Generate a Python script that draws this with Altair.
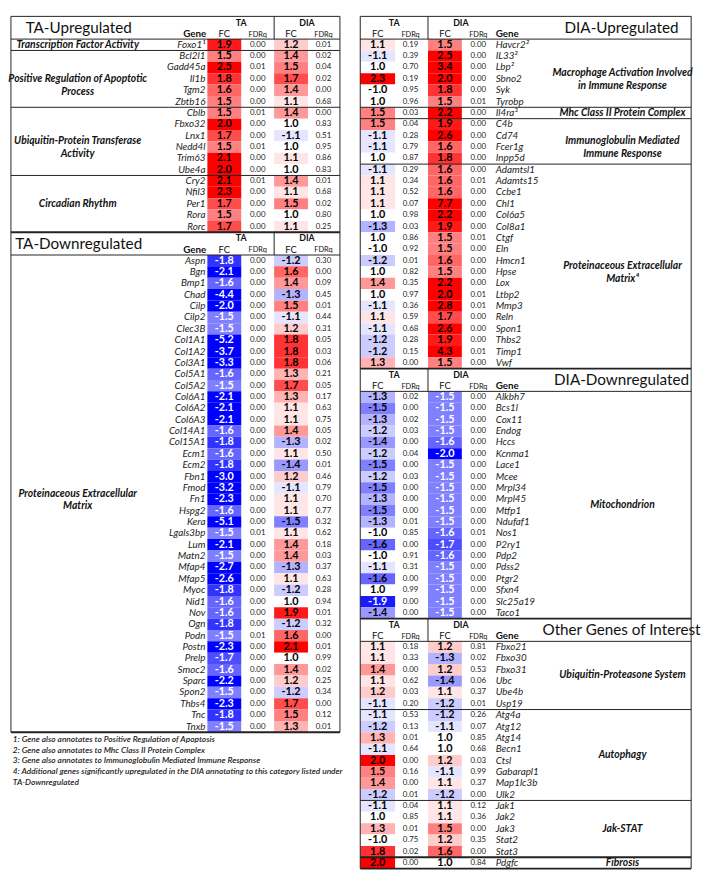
import altair as alt
import pandas as pd

# ------------------------------------------------------------------ data
# TA-Upregulated
TA_UP_GROUPS = ["Transcription Factor Activity",
                "Positive Regulation of Apoptotic\nProcess",
                "Ubiquitin-Protein Transferase\nActivity",
                "Circadian Rhythm"]
TA_UP_GROUP_SIZES = [1, 5, 6, 5]
TA_UP_GENES = ["Foxo1\u00b9", "Bcl2l1", "Gadd45a", "Il1b", "Tgm2", "Zbtb16",
               "Cblb", "Fbxo32", "Lnx1", "Nedd4l", "Trim63", "Ube4a",
               "Cry2", "Nfil3", "Per1", "Rora", "Rorc"]
TA_UP_TA_FC = [1.9, 1.5, 2.5, 1.8, 1.6, 1.5, 1.5, 2.0, 1.7, 1.5, 2.1, 2.0, 2.1, 2.3, 1.7, 1.5, 1.7]
TA_UP_TA_FDR = [0.00, 0.00, 0.01, 0.00, 0.00, 0.00, 0.01, 0.00, 0.00, 0.01, 0.00, 0.00, 0.01, 0.00, 0.00, 0.00, 0.00]
TA_UP_DIA_FC = [1.2, 1.4, 1.5, 1.7, 1.4, 1.1, 1.4, 1.0, -1.1, 1.0, 1.1, 1.0, 1.4, 1.1, 1.5, 1.0, 1.1]
TA_UP_DIA_FDR = [0.01, 0.02, 0.04, 0.02, 0.00, 0.68, 0.00, 0.83, 0.51, 0.95, 0.86, 0.83, 0.01, 0.68, 0.02, 0.80, 0.25]

# TA-Downregulated
TA_DOWN_GROUPS = ["Proteinaceous Extracellular\nMatrix"]
TA_DOWN_GROUP_SIZES = [42]
TA_DOWN_GENES = ["Aspn", "Bgn", "Bmp1", "Chad", "Cilp", "Cilp2", "Clec3B", "Col1A1", "Col1A2", "Col3A1",
                 "Col5A1", "Col5A2", "Col6A1", "Col6A2", "Col6A3", "Col14A1", "Col15A1", "Ecm1", "Ecm2", "Fbn1",
                 "Fmod", "Fn1", "Hspg2", "Kera", "Lgals3bp", "Lum", "Matn2", "Mfap4", "Mfap5", "Myoc",
                 "Nid1", "Nov", "Ogn", "Podn", "Postn", "Prelp", "Smoc2", "Sparc", "Spon2", "Thbs4",
                 "Tnc", "Tnxb"]
TA_DOWN_TA_FC = [-1.8, -2.1, -1.6, -4.4, -2.0, -1.5, -1.5, -5.2, -3.7, -3.3,
                 -1.6, -1.5, -2.1, -2.1, -2.1, -1.6, -1.8, -1.6, -1.8, -3.0,
                 -3.2, -2.3, -1.6, -5.1, -1.5, -2.1, -1.5, -2.7, -2.6, -1.8,
                 -1.6, -1.6, -1.8, -1.5, -2.3, -1.7, -1.6, -2.2, -1.5, -2.3,
                 -1.8, -1.5]
TA_DOWN_TA_FDR = [0.00] * 24 + [0.01] + [0.00] * 8 + [0.01] + [0.00] * 8
TA_DOWN_DIA_FC = [-1.2, 1.6, 1.4, -1.3, 1.5, -1.1, 1.2, 1.8, 1.8, 1.8,
                  1.3, 1.7, 1.3, 1.1, 1.1, 1.4, -1.3, 1.1, -1.4, 1.2,
                  -1.1, 1.1, 1.1, -1.5, 1.1, 1.4, 1.4, -1.3, 1.1, -1.2,
                  1.0, 1.9, -1.2, 1.6, 2.1, 1.0, 1.4, 1.2, -1.2, 1.7,
                  1.5, 1.3]
TA_DOWN_DIA_FDR = [0.30, 0.00, 0.09, 0.45, 0.01, 0.44, 0.31, 0.05, 0.03, 0.06,
                   0.21, 0.05, 0.17, 0.63, 0.75, 0.05, 0.02, 0.50, 0.01, 0.46,
                   0.79, 0.70, 0.77, 0.32, 0.62, 0.18, 0.03, 0.37, 0.63, 0.28,
                   0.94, 0.01, 0.32, 0.00, 0.01, 0.99, 0.02, 0.25, 0.34, 0.00,
                   0.12, 0.01]

# DIA-Upregulated
DIA_UP_GROUPS = ["Macrophage Activation Involved\nin Immune Response",
                 "Mhc Class II Protein Complex",
                 "Immunoglobulin Mediated\nImmune Response",
                 "Proteinaceous Extracellular\nMatrix\u2074"]
DIA_UP_GROUP_SIZES = [6, 1, 4, 18]
DIA_UP_GENES = ["Havcr2\u00b2", "IL33\u00b2", "Lbp\u00b2", "Sbno2", "Syk", "Tyrobp",
                "Il4ra\u00b3",
                "C4b", "Cd74", "Fcer1g", "Inpp5d",
                "Adamtsl1", "Adamts15", "Ccbe1", "Chl1", "Col6a5", "Col8a1", "Ctgf", "Eln", "Hmcn1",
                "Hpse", "Lox", "Ltbp2", "Mmp3", "Reln", "Spon1", "Thbs2", "Timp1", "Vwf"]
DIA_UP_TA_FC = [1.1, -1.1, 1.0, 2.3, -1.0, 1.0, 1.5, 1.5, -1.1, -1.1, 1.0,
                -1.1, 1.1, 1.1, 1.1, 1.0, -1.3, 1.0, -1.0, -1.2, 1.0, 1.4, 1.0, -1.1, 1.1, -1.1, -1.2, -1.2, 1.3]
DIA_UP_TA_FDR = [0.19, 0.39, 0.70, 0.19, 0.95, 0.96, 0.03, 0.04, 0.28, 0.79, 0.87,
                 0.29, 0.34, 0.52, 0.07, 0.98, 0.03, 0.86, 0.92, 0.01, 0.82, 0.35, 0.97, 0.36, 0.59, 0.68, 0.28, 0.15, 0.00]
DIA_UP_DIA_FC = [1.5, 2.5, 3.4, 2.0, 1.8, 1.5, 2.2, 1.9, 2.6, 1.6, 1.8,
                 1.6, 1.6, 1.6, 7.7, 2.2, 1.9, 1.5, 1.5, 1.6, 1.5, 2.2, 2.0, 2.8, 1.7, 2.6, 1.9, 4.3, 1.5]
DIA_UP_DIA_FDR = [0.00, 0.00, 0.00, 0.00, 0.00, 0.01, 0.00, 0.00, 0.00, 0.00, 0.00,
                  0.00, 0.01, 0.00, 0.00, 0.00, 0.00, 0.01, 0.00, 0.00, 0.00, 0.00, 0.01, 0.01, 0.00, 0.00, 0.00, 0.01, 0.00]

# DIA-Downregulated
DIA_DOWN_GROUPS = ["Mitochondrion"]
DIA_DOWN_GROUP_SIZES = [20]
DIA_DOWN_GENES = ["Alkbh7", "Bcs1l", "Cox11", "Endog", "Hccs", "Kcnma1", "Lace1", "Mcee", "Mrpl34", "Mrpl45",
                  "Mtfp1", "Ndufaf1", "Nos1", "P2ry1", "Pdp2", "Pdss2", "Ptgr2", "Sfxn4", "Slc25a19", "Taco1"]
DIA_DOWN_TA_FC = [-1.3, -1.5, -1.3, -1.2, -1.4, -1.2, -1.5, -1.2, -1.5, -1.3,
                  -1.5, -1.3, -1.0, -1.6, -1.0, -1.1, -1.6, 1.0, -1.9, -1.4]
DIA_DOWN_TA_FDR = [0.02, 0.00, 0.02, 0.03, 0.00, 0.04, 0.00, 0.03, 0.00, 0.00,
                   0.00, 0.01, 0.85, 0.00, 0.91, 0.31, 0.00, 0.99, 0.00, 0.00]
DIA_DOWN_DIA_FC = [-1.5, -1.5, -1.5, -1.5, -1.6, -2.0, -1.5, -1.5, -1.5, -1.5,
                   -1.5, -1.5, -1.6, -1.7, -1.6, -1.5, -1.5, -1.5, -1.5, -1.5]
DIA_DOWN_DIA_FDR = [0.00] * 12 + [0.01] + [0.00] * 7

# Other Genes of Interest
OTHER_GROUPS = ["Ubiquitin-Proteasone System", "Autophagy", "Jak-STAT", "Fibrosis"]
OTHER_GROUP_SIZES = [6, 8, 5, 1]
OTHER_GENES = ["Fbxo21", "Fbxo30", "Fbxo31", "Ubc", "Ube4b", "Usp19",
               "Atg4a", "Atg12", "Atg14", "Becn1", "Ctsl", "Gabarapl1", "Map1lc3b", "Ulk2",
               "Jak1", "Jak2", "Jak3", "Stat2", "Stat3", "Pdgfc"]
OTHER_TA_FC = [1.1, 1.1, 1.4, 1.1, 1.2, -1.1, -1.1, -1.2, 1.3, -1.1, 2.0, 1.5, 1.4, -1.2,
               -1.1, 1.0, 1.3, -1.0, 1.8, 2.0]
OTHER_TA_FDR = [0.18, 0.33, 0.00, 0.62, 0.03, 0.20, 0.53, 0.13, 0.01, 0.64, 0.00, 0.16, 0.00, 0.01,
                0.04, 0.85, 0.01, 0.75, 0.02, 0.00]
OTHER_DIA_FC = [1.2, -1.3, 1.2, -1.4, 1.1, -1.2, -1.2, -1.1, 1.0, 1.0, 1.2, -1.1, 1.1, -1.2,
                1.1, 1.1, 1.5, 1.2, 1.6, 1.0]
OTHER_DIA_FDR = [0.81, 0.02, 0.53, 0.06, 0.37, 0.01, 0.26, 0.07, 0.85, 0.68, 0.03, 0.99, 0.37, 0.00,
                 0.12, 0.36, 0.00, 0.35, 0.00, 0.84]

FOOTNOTES = ["1: Gene also annotates to Positive Regulation of Apoptosis",
             "2: Gene also annotates to Mhc Class II Protein Complex",
             "3: Gene also annotates to Immunoglobulin Mediated Immune Response",
             "4: Additional genes significantly upregulated in the DIA annotating to this category listed under",
             "TA-Downregulated"]

# ------------------------------------------------------------------ layout (table geometry)
FONT = "Lato"
PANELS = {
    "L": dict(x0=3, x1=343, cat=72, gene=204, ta=(206, 241), ta_fdr=258, sep=275,
              dia=(275, 310), dia_fdr=326, gene_hdr=193, ta_hdr=241, dia_hdr=309, title=73),
    "R": dict(x0=364, x1=706, cat=635, gene=504, ta=(364, 400), ta_fdr=416, sep=434,
              dia=(434, 469), dia_fdr=486, gene_hdr=504, ta_hdr=399, dia_hdr=468, title=634),
}
SECTIONS = [
    ("L", "TA-Upregulated", TA_UP_GROUPS, TA_UP_GROUP_SIZES, TA_UP_GENES,
     TA_UP_TA_FC, TA_UP_TA_FDR, TA_UP_DIA_FC, TA_UP_DIA_FDR, None),
    ("L", "TA-Downregulated", TA_DOWN_GROUPS, TA_DOWN_GROUP_SIZES, TA_DOWN_GENES,
     TA_DOWN_TA_FC, TA_DOWN_TA_FDR, TA_DOWN_DIA_FC, TA_DOWN_DIA_FDR, "TA"),
    ("R", "DIA-Upregulated", DIA_UP_GROUPS, DIA_UP_GROUP_SIZES, DIA_UP_GENES,
     DIA_UP_TA_FC, DIA_UP_TA_FDR, DIA_UP_DIA_FC, DIA_UP_DIA_FDR, None),
    ("R", "DIA-Downregulated", DIA_DOWN_GROUPS, DIA_DOWN_GROUP_SIZES, DIA_DOWN_GENES,
     DIA_DOWN_TA_FC, DIA_DOWN_TA_FDR, DIA_DOWN_DIA_FC, DIA_DOWN_DIA_FDR, "DIA"),
    ("R", "Other Genes of Interest", OTHER_GROUPS, OTHER_GROUP_SIZES, OTHER_GENES,
     OTHER_TA_FC, OTHER_TA_FDR, OTHER_DIA_FC, OTHER_DIA_FDR, None),
]
HDR = 2  # header height in row units

cells, genes, cats, hdrs, thin, thick = [], [], [], [], [], []
start = {"L": 0, "R": 0}
for si, (pn, title, groups, sizes, gl, tfc, tfdr, dfc, dfdr, defining) in enumerate(SECTIONS):
    P = PANELS[pn]
    s = start[pn]
    # header
    hdrs += [
        dict(kind="title", x=P["title"], y=s + 1.0, t=title),
        dict(kind="grp", x=P["ta_hdr"], y=s + 0.55, t="TA"),
        dict(kind="grp", x=P["dia_hdr"], y=s + 0.55, t="DIA"),
        dict(kind="fc", x=sum(P["ta"]) / 2, y=s + 1.55, t="FC"),
        dict(kind="fc", x=sum(P["dia"]) / 2, y=s + 1.55, t="FC"),
        dict(kind="fdr", x=P["ta_fdr"], y=s + 1.6, t="FDRq"),
        dict(kind="fdr", x=P["dia_fdr"], y=s + 1.6, t="FDRq"),
        dict(kind="gene_" + pn, x=P["gene_hdr"], y=s + 1.55, t="Gene"),
    ]
    thin.append(dict(x=P["sep"], x2=P["sep"], y=s, y2=s + HDR))
    thin.append(dict(x=P["x0"], x2=P["x1"], y=s + HDR, y2=s + HDR))
    r0 = s + HDR
    for i, g in enumerate(gl):
        yc = r0 + i + 0.5
        genes.append(dict(panel=pn, x=P["gene"], y=yc, t=g))
        for col, fcs, fdrs, xr, xf in (("TA", tfc, tfdr, P["ta"], P["ta_fdr"]),
                                        ("DIA", dfc, dfdr, P["dia"], P["dia_fdr"])):
            fc = fcs[i]
            white = (defining == col and fc < 0) or fc <= -1.8
            cells.append(dict(x0=xr[0], x1=xr[1], xc=(xr[0] + xr[1]) / 2, xf=xf,
                              y0=r0 + i, y1=r0 + i + 1, yc=yc, fc=fc,
                              fc_lab=f"{fc:.1f}", fdr_lab=f"{fdrs[i]:.2f}",
                              tcol="white" if white else "black"))
    acc = 0
    for gi, (gname, n) in enumerate(zip(groups, sizes)):
        cats.append(dict(panel=pn, x=P["cat"], y=r0 + acc + n / 2, t=gname))
        acc += n
        if gi < len(groups) - 1:
            yb = r0 + acc
            if title == "Other Genes of Interest" and gi == len(groups) - 2:
                thick.append(dict(x=P["x0"], x2=P["x1"], y=yb, y2=yb))
            else:
                thin.append(dict(x=P["x0"], x2=P["x1"], y=yb, y2=yb))
    start[pn] = r0 + acc

# borders
for pn in ("L", "R"):
    P = PANELS[pn]
    end = start[pn]
    thin.append(dict(x=P["x0"], x2=P["x1"], y=0, y2=0))
    thick.append(dict(x=P["x0"], x2=P["x1"], y=end, y2=end))
    thin.append(dict(x=P["x0"], x2=P["x0"], y=0, y2=end))
    thin.append(dict(x=P["x1"], x2=P["x1"], y=0, y2=end))
# separators between sections
acc = {"L": 0, "R": 0}
for (pn, title, groups, sizes, *_r) in SECTIONS:
    acc[pn] += HDR + sum(sizes)
    P = PANELS[pn]
    if acc[pn] < start[pn]:
        thick.append(dict(x=P["x0"], x2=P["x1"], y=acc[pn], y2=acc[pn]))

foot = [dict(x=5, y=start["L"] + 0.6 + 0.94 * i, t=t) for i, t in enumerate(FOOTNOTES)]

cells = pd.DataFrame(cells)
genes = pd.DataFrame(genes)
cats = pd.DataFrame(cats)
hdrs = pd.DataFrame(hdrs)
thin = pd.DataFrame(thin)
thick = pd.DataFrame(thick)
foot = pd.DataFrame(foot)

# ------------------------------------------------------------------ chart
XS = alt.Scale(domain=[2, 706], nice=False, zero=False)
YS = alt.Scale(domain=[0, 75], nice=False, zero=False, reverse=True)


def X(f):
    return alt.X(f, type="quantitative", scale=XS, axis=None)


def Y(f):
    return alt.Y(f, type="quantitative", scale=YS, axis=None)


color_scale = alt.Scale(domain=[-2, -1, 1, 2], range=["#0000ff", "#ffffff", "#ffffff", "#ff0000"],
                        clamp=True, interpolate="rgb")

rects = alt.Chart(cells).mark_rect().encode(
    x=X("x0"), x2=alt.X2("x1"), y=Y("y0"), y2=alt.Y2("y1"),
    color=alt.Color("fc:Q", scale=color_scale, legend=None))

fc_text = alt.Chart(cells).mark_text(font=FONT, fontWeight="bold", fontSize=11, baseline="middle").encode(
    x=X("xc"), y=Y("yc"), text="fc_lab:N", color=alt.Color("tcol:N", scale=None))

fdr_text = alt.Chart(cells).mark_text(font=FONT, fontSize=8, baseline="middle", color="#222").encode(
    x=X("xf"), y=Y("yc"), text="fdr_lab:N")

gene_L = alt.Chart(genes[genes.panel == "L"]).mark_text(
    font=FONT, fontStyle="italic", fontSize=10, align="right", baseline="middle", color="#222").encode(
    x=X("x"), y=Y("y"), text="t:N")
gene_R = alt.Chart(genes[genes.panel == "R"]).mark_text(
    font=FONT, fontStyle="italic", fontSize=10, align="left", baseline="middle", color="#222").encode(
    x=X("x"), y=Y("y"), text="t:N")

cat_text = alt.Chart(cats).mark_text(
    font=FONT, fontStyle="italic", fontWeight="bold", fontSize=10.5, align="center",
    baseline="middle", lineBreak="\n", lineHeight=13, color="#111").encode(
    x=X("x"), y=Y("y"), text="t:N")


def hdr_layer(kind, **kw):
    return alt.Chart(hdrs[hdrs.kind == kind]).mark_text(font=FONT, baseline="middle", color="#111", **kw).encode(
        x=X("x"), y=Y("y"), text="t:N")


h_title = hdr_layer("title", fontSize=15.5)
h_grp = hdr_layer("grp", fontSize=9, fontWeight="bold")
h_fc = hdr_layer("fc", fontSize=9.5)
h_fdr = hdr_layer("fdr", fontSize=7.5)
h_gL = hdr_layer("gene_L", fontSize=10, fontWeight="bold", align="center")
h_gR = hdr_layer("gene_R", fontSize=10, fontWeight="bold", align="left")

foot_text = alt.Chart(foot).mark_text(
    font=FONT, fontStyle="italic", fontWeight=600, fontSize=8.5, align="left", baseline="middle",
    color="#222").encode(x=X("x"), y=Y("y"), text="t:N")

rules_thin = alt.Chart(thin).mark_rule(color="#222", strokeWidth=1).encode(
    x=X("x"), x2=alt.X2("x2"), y=Y("y"), y2=alt.Y2("y2"))
rules_thick = alt.Chart(thick).mark_rule(color="#222", strokeWidth=2).encode(
    x=X("x"), x2=alt.X2("x2"), y=Y("y"), y2=alt.Y2("y2"))

chart = alt.layer(
    rects, fc_text, fdr_text, gene_L, gene_R, cat_text,
    h_title, h_grp, h_fc, h_fdr, h_gL, h_gR, foot_text, rules_thin, rules_thick
).resolve_scale(color="independent").properties(
    width=693, height=867, padding=0, background="white"
).configure_view(stroke=None)

chart.save("out.html", embed_options={"renderer": "svg", "actions": False})
